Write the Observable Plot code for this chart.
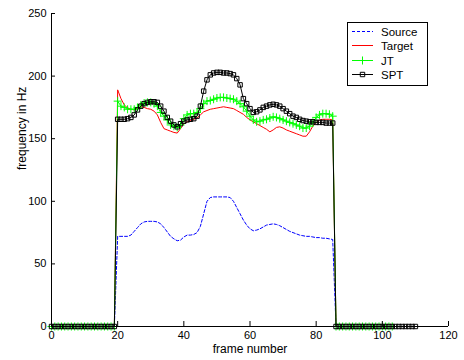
<!DOCTYPE html>
<html><head><meta charset="utf-8">
<script src="https://cdn.jsdelivr.net/npm/d3@7"></script>
<script src="https://cdn.jsdelivr.net/npm/@observablehq/plot@0.6"></script>
<style>
body{margin:0;background:#fff;}
#wrap{position:relative;width:464px;height:360px;font-family:"Liberation Sans",Arial,sans-serif;}
#legend{position:absolute;left:347px;top:22px;width:79px;height:62px;border:1px solid #000;background:#fff;}
#legend svg{display:block;}
</style></head><body>
<div id="wrap"><div id="chart"></div><div id="legend"></div></div>
<script>
// voiced frames 20..85
const firstVoiced = 20;
const lastVoiced = 85;
const lastFrameShort = 103;   // zero tail for Source, Target, JT
const lastFrameLong = 110;    // zero tail for SPT

const sourceHz = [72,72,72,72,73,76,79,82,83.5,84,84,84,83.5,82,79,75.5,72,70,68.5,69,71.5,73,73,73.5,75,80,90,100,103,103.5,103.5,103.5,103.5,103.5,103,100,95,90,85,81,78,76.5,77,78,79.5,81,81.5,82,81.5,80.5,79,77.5,76,75,74,73,72.5,72,72,71.5,71,71,70.5,70.5,70,69.5];
const targetHz = [189,182,177,174.5,173.5,173,174.5,175.5,175,174,173.5,172,169,163,158,157,156,155,154.5,158,162,163.5,164.5,165.5,166.5,169,171.5,172.5,173.5,174,174.5,175,175.5,175,174.5,174,172.5,171,169.5,167,165,163.5,162,160.5,159,157.5,155.5,157,159,159.5,158.5,157,156,155,154,153,152,152,155.5,160,163,165,165.5,165.5,165.5,165];
const jtHz = [180,176,175,173.5,173.5,173.5,175,177,178.5,179,179,178,176,171,168,165,161,160,159,161,166,169,170,170,171,174,178,180,180.5,181.5,182.5,183,183,182.5,182,181.5,180,178,175.5,172,168,165,163.5,164,165,165.5,166.5,167.5,167,166,165,164,163,162,161,160,158.5,158.5,160,163,167,169,170,170,169.5,168];
const sptHz = [165.5,165.5,165.5,166,167,169,173,176,178,179,179.5,179.5,179,176,172,167,164,161,159.5,162,164,165,165.5,166,168,176,188,197,201,202.5,203,203,202.5,202.5,202,201,198,193,182,178,174,171,171.5,173,175,176,177,177.5,177,176,174,172,170,168,167,165.5,164.5,164,163.5,163.5,163,163,163,162.5,162.5,162.5];

const xTicks = [0,20,40,60,80,100,120];
const yTicks = [0,50,100,150,200,250];
const seriesNames = ["Source","Target","JT","SPT"];
const seriesColors = ["#0000ff","#ff0000","#00ff00","#000000"];

function build(values, lastFrame) {
  const out = [];
  for (let f = 0; f < firstVoiced; f++) out.push({frame: f, hz: 0});
  values.forEach((v, i) => out.push({frame: firstVoiced + i, hz: v}));
  for (let f = lastVoiced + 1; f <= lastFrame; f++) out.push({frame: f, hz: 0});
  return out;
}
const source = build(sourceHz, lastFrameShort);
const target = build(targetHz, lastFrameShort);
const jt = build(jtHz, lastFrameShort);
const spt = build(sptHz, lastFrameLong);

const plusR = 2.7, squareR = 2.5;

const chart = Plot.plot({
  width: 464, height: 360,
  marginLeft: 51, marginRight: 16, marginTop: 13, marginBottom: 34,
  style: {fontFamily: "'Liberation Sans', Arial, sans-serif", fontSize: "11px", background: "#fff", color: "#000"},
  x: {domain: [0, 120]},
  y: {domain: [0, 250]},
  marks: [
    Plot.line(source, {x: "frame", y: "hz", stroke: seriesColors[0], strokeWidth: 1, strokeDasharray: "3,2"}),
    Plot.line(target, {x: "frame", y: "hz", stroke: seriesColors[1], strokeWidth: 1}),
    Plot.line(jt, {x: "frame", y: "hz", stroke: seriesColors[2], strokeWidth: 1}),
    Plot.dot(jt, {x: "frame", y: "hz", symbol: "plus", r: plusR, stroke: seriesColors[2], strokeWidth: 1}),
    Plot.line(spt, {x: "frame", y: "hz", stroke: seriesColors[3], strokeWidth: 1}),
    Plot.dot(spt, {x: "frame", y: "hz", symbol: "square", r: squareR, stroke: seriesColors[3], fill: "none", strokeWidth: 1}),
    Plot.ruleY([0], {stroke: "#000"}),
    Plot.ruleX([0], {stroke: "#000"}),
    Plot.axisX(xTicks, {tickSize: -5, tickPadding: 10, label: null, fontSize: 11}),
    Plot.axisY(yTicks, {tickSize: -4, tickPadding: 9, label: null, fontSize: 11}),
    Plot.text(["frame number"], {frameAnchor: "bottom", dy: 23, lineAnchor: "middle", fontSize: 12, text: d => d}),
    Plot.text(["frequency in Hz"], {frameAnchor: "left", dx: -29, rotate: -90, lineAnchor: "middle", fontSize: 12, text: d => d})
  ]
});
document.getElementById("chart").appendChild(chart);

// legend
const lg = d3.select("#legend").append("svg").attr("width", 79).attr("height", 62);
const rowY = [8.5, 22.5, 37.5, 51.5];
seriesNames.forEach((name, i) => {
  const g = lg.append("g").attr("transform", `translate(0,${rowY[i]})`);
  g.append("line").attr("x1", 4).attr("x2", 25).attr("y1", 0).attr("y2", 0)
    .attr("stroke", seriesColors[i]).attr("stroke-width", 1)
    .attr("stroke-dasharray", i === 0 ? "3,2" : null);
  if (i === 2) {
    g.append("path").attr("d", d3.symbol(d3.symbolPlus, Math.PI * plusR * plusR)()).attr("transform", "translate(14.5,0)")
      .attr("stroke", seriesColors[i]).attr("fill", "none");
  }
  if (i === 3) {
    g.append("path").attr("d", d3.symbol(d3.symbolSquare, Math.PI * squareR * squareR)()).attr("transform", "translate(14.5,0)")
      .attr("stroke", seriesColors[i]).attr("fill", "none");
  }
  g.append("text").attr("x", 33).attr("y", 0).attr("dy", "0.35em")
    .attr("font-size", "11.5px").attr("font-family", "'Liberation Sans', Arial, sans-serif")
    .attr("fill", "#000").text(name);
});
</script>
</body></html>
